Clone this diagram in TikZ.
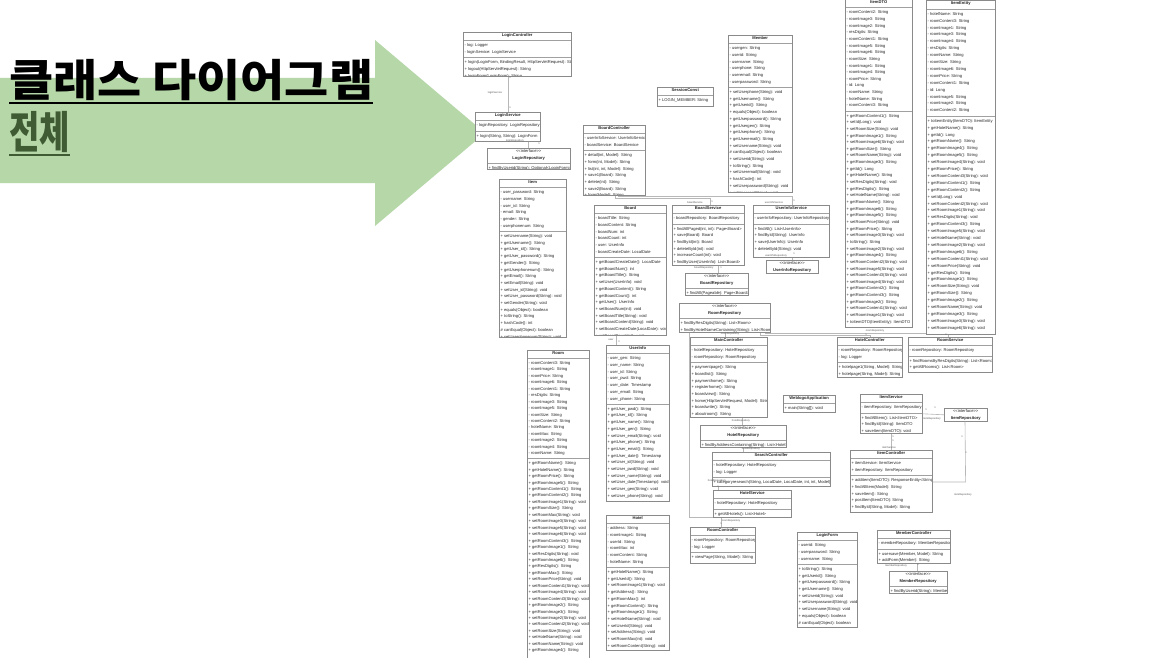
\documentclass[tikz,border=0pt]{standalone}
\usepackage{fontspec}
\usepackage{graphicx}
\setmainfont{Liberation Sans}
\newfontfamily\krfont{Noto Sans CJK KR}
\usetikzlibrary{calc}
\definecolor{arrowgreen}{HTML}{B6D7A8}
\definecolor{boxline}{HTML}{8A8A8A}
\definecolor{sepline}{HTML}{A0A0A0}
\definecolor{connline}{HTML}{B8B8B8}
\definecolor{umltext}{HTML}{262626}
\definecolor{lbltext}{HTML}{555555}
\definecolor{titlegreen}{HTML}{3E5B33}
\newdimen\uh \newdimen\ud
\newcommand\setls[1]{\uh=\dimexpr #1pt*67/100\relax \ud=\dimexpr #1pt*33/100\relax}
\newcommand\uT[1]{\hbox to \hsize{\hss\vrule height\uh depth\ud width0pt\bfseries #1\hss}}
\newcommand\uI[1]{\hbox to \hsize{\hss\vrule height\uh depth\ud width0pt <{}<interface>{}>\hss}\uT{#1}}
\newcommand\uS{\kern1.5pt{\color{sepline}\hrule height .5pt}\kern1.5pt}
\newcommand\uL[1]{\hbox{\kern1.4pt\vrule height\uh depth\ud width0pt #1}}
\tikzset{
  umlframe/.style={draw=boxline, line width=0.6pt, inner sep=0pt},
  conn/.style={draw=connline, line width=0.6pt},
  lbl/.style={inner sep=0pt, text=lbltext, font=\fontsize{2.6}{3}\selectfont},
}
\newcommand\umlbox[7]{%
  \begin{scope}
    \clip (#2,#3) rectangle ++(#4,#5);
    \fill[white] (#2,#3) rectangle ++(#4,#5);
    \node[inner sep=0pt, anchor=north west, text=umltext, font=\fontsize{4.1}{5}\selectfont] at (#2,#3)
      {\setls{#6}\vbox{\hsize=#4pt\offinterlineskip #7}};
  \end{scope}
  \node[umlframe, minimum width=#4pt, minimum height=#5pt, anchor=north west] (#1) at (#2,#3) {};
}
\begin{document}
\begin{tikzpicture}[x=1pt,y=-1pt]
\useasboundingbox[fill=white] (0,0) rectangle (1172,658);
% ---- title and arrow
\fill[arrowgreen] (0,78) -- (375,78) -- (375,40) -- (485,133) -- (375,226) -- (375,183) -- (0,183) -- cycle;
\node[anchor=base west, inner sep=0pt, font=\krfont\bfseries\fontsize{44}{44}\selectfont] (title1) at (9,97) {\scalebox{1.09}[1]{클래스 다이어그램}};
\draw[line width=2.8pt] ([yshift=-6pt]title1.base west) -- ([yshift=-6pt]title1.base east);
\node[anchor=base west, inner sep=0pt, text=titlegreen, font=\krfont\bfseries\fontsize{44}{44}\selectfont] (title2) at (9,149) {\scalebox{0.75}[1]{전체}};
\draw[line width=2.8pt, titlegreen] ([yshift=-6pt]title2.base west) -- ([yshift=-6pt]title2.base east);

% ---- connectors drawn below the boxes
\coordinate (bcA) at (615,195);
\coordinate (bcB) at (618,195);
\draw[conn] (bcA) -- (615,198) -| (710,205);
\draw[conn] (bcB) -- (618,196) -| (792,205);
\draw[conn] (721,527) -- (721,517) -| (689,331);
\draw[conn] (870,337) -- (870,335) -| (760,331);
\draw[conn] (948,337) -- (948,333) -| (765,331);

% ---- boxes
\umlbox{loginController}{463}{32}{108}{44}{6.7}{\uT{LoginController}\uS
 \uL{- log: Logger}\uL{- loginService: LoginService}\uS
 \uL{+ login(LoginForm, BindingResult, HttpServletRequest): String}\uL{+ logout(HttpServletRequest): String}\uL{+ loginForm(LoginForm): String}}
\umlbox{loginService}{475}{112}{65}{29}{6.7}{\uT{LoginService}\uS
 \uL{- loginRepository: LoginRepository}\uS
 \uL{+ login(String, String): LoginForm}}
\umlbox{loginRepository}{487}{148}{83}{21}{6.7}{\uI{LoginRepository}\uS
 \uL{+ findByUserid(String): Optional<LoginForm>}}
\umlbox{item}{499}{179}{67}{158}{6.7}{\uT{Item}\uS
 \uL{- user\_password: String}\uL{- username: String}\uL{- user\_id: String}\uL{- email: String}\uL{- gender: String}\uL{- userphonenum: String}\uS
 \uL{+ setUsername(String): void}\uL{+ getUsername(): String}\uL{+ getUser\_id(): String}\uL{+ getUser\_password(): String}\uL{+ getGender(): String}\uL{+ getUserphonenum(): String}\uL{+ getEmail(): String}\uL{+ setEmail(String): void}\uL{+ setUser\_id(String): void}\uL{+ setUser\_password(String): void}\uL{+ setGender(String): void}\uL{+ equals(Object): boolean}\uL{+ toString(): String}\uL{+ hashCode(): int}\uL{\# canEqual(Object): boolean}\uL{+ setUserphonenum(String): void}}
\umlbox{sessionConst}{657}{87}{56}{19}{6.7}{\uT{SessionConst}\uS
 \uL{+ LOGIN\_MEMBER: String}}
\umlbox{member}{728}{35}{64}{157}{6.7}{\uT{Member}\uS
 \uL{- usergen: String}\uL{- userid: String}\uL{- username: String}\uL{- userphone: String}\uL{- useremail: String}\uL{- userpassword: String}\uS
 \uL{+ setUserphone(String): void}\uL{+ getUsername(): String}\uL{+ getUserid(): String}\uL{+ equals(Object): boolean}\uL{+ getUserpassword(): String}\uL{+ getUsergen(): String}\uL{+ getUserphone(): String}\uL{+ getUseremail(): String}\uL{+ setUsername(String): void}\uL{\# canEqual(Object): boolean}\uL{+ setUserid(String): void}\uL{+ toString(): String}\uL{+ setUseremail(String): void}\uL{+ hashCode(): int}\uL{+ setUserpassword(String): void}\uL{+ setUsergen(String): void}}
\umlbox{boardController}{583}{125}{62}{70}{6.7}{\uT{BoardController}\uS
 \uL{- userInfoService: UserInfoService}\uL{- boardService: BoardService}\uS
 \uL{+ detail(int, Model): String}\uL{+ form(int, Model): String}\uL{+ list(int, int, Model): String}\uL{+ save1(Board): String}\uL{+ delete(int): String}\uL{+ save2(Board): String}\uL{+ form(Model): String}}
\umlbox{board}{594}{205}{72}{130}{6.7}{\uT{Board}\uS
 \uL{- boardTitle: String}\uL{- boardContent: String}\uL{- boardNum: int}\uL{- boardCount: int}\uL{- user: UserInfo}\uL{- boardCreateDate: LocalDate}\uS
 \uL{+ getBoardCreateDate(): LocalDate}\uL{+ getBoardNum(): int}\uL{+ getBoardTitle(): String}\uL{+ setUser(UserInfo): void}\uL{+ getBoardContent(): String}\uL{+ getBoardCount(): int}\uL{+ getUser(): UserInfo}\uL{+ setBoardNum(int): void}\uL{+ setBoardTitle(String): void}\uL{+ setBoardContent(String): void}\uL{+ setBoardCreateDate(LocalDate): void}\uL{+ setBoardCount(int): void}}
\umlbox{boardService}{672}{205}{72}{60}{6.7}{\uT{BoardService}\uS
 \uL{- boardRepository: BoardRepository}\uS
 \uL{+ findAllPaged(int, int): Page<Board>}\uL{+ save(Board): Board}\uL{+ findById(int): Board}\uL{+ deleteById(int): void}\uL{+ increaseCount(int): void}\uL{+ findByUser(UserInfo): List<Board>}}
\umlbox{userInfoService}{753}{205}{76}{52}{6.7}{\uT{UserInfoService}\uS
 \uL{- userInfoRepository: UserInfoRepository}\uS
 \uL{+ findAll(): List<UserInfo>}\uL{+ findById(String): UserInfo}\uL{+ save(UserInfo): UserInfo}\uL{+ deleteById(String): void}}
\umlbox{boardRepository}{685}{273}{63}{22}{6.7}{\uI{BoardRepository}\uS
 \uL{+ findAll(Pageable): Page<Board>}}
\umlbox{userInfoRepository}{766}{260}{52}{13}{6.7}{\uI{UserInfoRepository}}
\umlbox{roomRepository}{679}{303}{91}{29}{6.7}{\uI{RoomRepository}\uS
 \uL{+ findByResDigits(String): List<Room>}\uL{+ findByHotelNameContaining(String): List<Room>}}
\umlbox{itemDTO}{845}{-1}{67}{328}{6.65}{\uT{ItemDTO}\uS
 \uL{- roomContent2: String}\uL{- roomImage3: String}\uL{- roomImage2: String}\uL{- resDigits: String}\uL{- roomContent1: String}\uL{- roomImage5: String}\uL{- roomImage6: String}\uL{- roomSize: String}\uL{- roomImage1: String}\uL{- roomImage4: String}\uL{- roomPrice: String}\uL{- id: Long}\uL{- roomName: String}\uL{- hotelName: String}\uL{- roomContent3: String}\uS
 \uL{+ getRoomContent1(): String}\uL{+ setId(Long): void}\uL{+ setRoomSize(String): void}\uL{+ getRoomImage1(): String}\uL{+ setRoomImage6(String): void}\uL{+ getRoomSize(): String}\uL{+ setRoomName(String): void}\uL{+ getRoomImage3(): String}\uL{+ getId(): Long}\uL{+ getHotelName(): String}\uL{+ setResDigits(String): void}\uL{+ getResDigits(): String}\uL{+ setHotelName(String): void}\uL{+ getRoomName(): String}\uL{+ getRoomImage6(): String}\uL{+ getRoomImage5(): String}\uL{+ setRoomPrice(String): void}\uL{+ getRoomPrice(): String}\uL{+ setRoomImage3(String): void}\uL{+ toString(): String}\uL{+ setRoomImage2(String): void}\uL{+ getRoomImage4(): String}\uL{+ setRoomContent2(String): void}\uL{+ setRoomImage5(String): void}\uL{+ setRoomContent3(String): void}\uL{+ setRoomImage4(String): void}\uL{+ getRoomContent2(): String}\uL{+ getRoomContent3(): String}\uL{+ getRoomImage2(): String}\uL{+ setRoomContent1(String): void}\uL{+ setRoomImage1(String): void}\uL{+ toItemDTO(ItemEntity): ItemDTO}}
\umlbox{itemEntity}{926}{0}{69}{334}{6.9}{\uT{ItemEntity}\uS
 \uL{- hotelName: String}\uL{- roomContent3: String}\uL{- roomImage1: String}\uL{- roomImage3: String}\uL{- roomImage4: String}\uL{- resDigits: String}\uL{- roomName: String}\uL{- roomSize: String}\uL{- roomImage6: String}\uL{- roomPrice: String}\uL{- roomContent1: String}\uL{- id: Long}\uL{- roomImage5: String}\uL{- roomImage2: String}\uL{- roomContent2: String}\uS
 \uL{+ toItemEntity(ItemDTO): ItemEntity}\uL{+ getHotelName(): String}\uL{+ getId(): Long}\uL{+ getRoomName(): String}\uL{+ getRoomImage4(): String}\uL{+ getRoomImage5(): String}\uL{+ setRoomImage4(String): void}\uL{+ getRoomPrice(): String}\uL{+ setRoomContent3(String): void}\uL{+ getRoomContent1(): String}\uL{+ getRoomContent2(): String}\uL{+ setId(Long): void}\uL{+ setRoomContent2(String): void}\uL{+ setRoomImage1(String): void}\uL{+ setResDigits(String): void}\uL{+ getRoomContent3(): String}\uL{+ setRoomImage5(String): void}\uL{+ setHotelName(String): void}\uL{+ setRoomImage2(String): void}\uL{+ getRoomImage6(): String}\uL{+ setRoomContent1(String): void}\uL{+ setRoomPrice(String): void}\uL{+ getResDigits(): String}\uL{+ getRoomImage1(): String}\uL{+ setRoomSize(String): void}\uL{+ getRoomSize(): String}\uL{+ getRoomImage2(): String}\uL{+ setRoomName(String): void}\uL{+ getRoomImage3(): String}\uL{+ setRoomImage3(String): void}\uL{+ setRoomImage6(String): void}}
\umlbox{room}{527}{350}{62}{320}{6.45}{\uT{Room}\uS
 \uL{- roomContent3: String}\uL{- roomImage1: String}\uL{- roomPrice: String}\uL{- roomImage6: String}\uL{- roomContent1: String}\uL{- resDigits: String}\uL{- roomImage3: String}\uL{- roomImage5: String}\uL{- roomSize: String}\uL{- roomContent2: String}\uL{- hotelName: String}\uL{- roomMax: String}\uL{- roomImage2: String}\uL{- roomImage4: String}\uL{- roomName: String}\uS
 \uL{+ getRoomName(): String}\uL{+ getHotelName(): String}\uL{+ getRoomPrice(): String}\uL{+ getRoomImage5(): String}\uL{+ getRoomContent1(): String}\uL{+ getRoomContent2(): String}\uL{+ setRoomImage1(String): void}\uL{+ getRoomSize(): String}\uL{+ setRoomMax(String): void}\uL{+ setRoomImage3(String): void}\uL{+ setRoomImage5(String): void}\uL{+ setRoomImage6(String): void}\uL{+ getRoomContent3(): String}\uL{+ getRoomImage1(): String}\uL{+ setResDigits(String): void}\uL{+ getRoomImage6(): String}\uL{+ getResDigits(): String}\uL{+ getRoomMax(): String}\uL{+ setRoomPrice(String): void}\uL{+ setRoomContent1(String): void}\uL{+ setRoomImage4(String): void}\uL{+ setRoomContent3(String): void}\uL{+ getRoomImage2(): String}\uL{+ getRoomImage3(): String}\uL{+ setRoomImage2(String): void}\uL{+ setRoomContent2(String): void}\uL{+ setRoomSize(String): void}\uL{+ setHotelName(String): void}\uL{+ setRoomName(String): void}\uL{+ getRoomImage4(): String}}
\umlbox{userInfo}{606}{345}{63}{156}{6.7}{\uT{UserInfo}\uS
 \uL{- user\_gen: String}\uL{- user\_name: String}\uL{- user\_id: String}\uL{- user\_pwd: String}\uL{- user\_date: Timestamp}\uL{- user\_email: String}\uL{- user\_phone: String}\uS
 \uL{+ getUser\_pwd(): String}\uL{+ getUser\_id(): String}\uL{+ getUser\_name(): String}\uL{+ getUser\_gen(): String}\uL{+ setUser\_email(String): void}\uL{+ getUser\_phone(): String}\uL{+ getUser\_email(): String}\uL{+ getUser\_date(): Timestamp}\uL{+ setUser\_id(String): void}\uL{+ setUser\_pwd(String): void}\uL{+ setUser\_name(String): void}\uL{+ setUser\_date(Timestamp): void}\uL{+ setUser\_gen(String): void}\uL{+ setUser\_phone(String): void}}
\umlbox{hotel}{606}{515}{63}{135}{6.7}{\uT{Hotel}\uS
 \uL{- address: String}\uL{- roomImage1: String}\uL{- userId: String}\uL{- roomMax: int}\uL{- roomContent: String}\uL{- hotelName: String}\uS
 \uL{+ getHotelName(): String}\uL{+ getUserId(): String}\uL{+ setRoomImage1(String): void}\uL{+ getAddress(): String}\uL{+ getRoomMax(): int}\uL{+ getRoomContent(): String}\uL{+ getRoomImage1(): String}\uL{+ setHotelName(String): void}\uL{+ setUserId(String): void}\uL{+ setAddress(String): void}\uL{+ setRoomMax(int): void}\uL{+ setRoomContent(String): void}}
\umlbox{mainController}{690}{337}{77}{80}{6.7}{\uT{MainController}\uS
 \uL{- hotelRepository: HotelRepository}\uL{- roomRepository: RoomRepository}\uS
 \uL{+ paymentpage(): String}\uL{+ boardlist(): String}\uL{+ paymenthome(): String}\uL{+ registerhome(): String}\uL{+ boardview(): String}\uL{+ home(HttpServletRequest, Model): String}\uL{+ boardwrite(): String}\uL{+ aboutroom(): String}}
\umlbox{weblogoApplication}{783}{395}{52}{17}{6.7}{\uT{WeblogoApplication}\uS
 \uL{+ main(String[]): void}}
\umlbox{hotelRepository}{700}{425}{86}{22}{6.7}{\uI{HotelRepository}\uS
 \uL{+ findByAddressContaining(String): List<Hotel>}}
\umlbox{searchController}{712}{452}{118}{34}{6.7}{\uT{SearchController}\uS
 \uL{- hotelRepository: HotelRepository}\uL{- log: Logger}\uS
 \uL{+ categoryresearch(String, LocalDate, LocalDate, int, int, Model): String}}
\umlbox{hotelService}{713}{490}{78}{27}{6.7}{\uT{HotelService}\uS
 \uL{- hotelRepository: HotelRepository}\uS
 \uL{+ getAllHotels(): List<Hotel>}}
\umlbox{roomController}{690}{527}{65}{36}{6.7}{\uT{RoomController}\uS
 \uL{- roomRepository: RoomRepository}\uL{- log: Logger}\uS
 \uL{+ viewPage(String, Model): String}}
\umlbox{loginForm}{797}{532}{60}{95}{6.7}{\uT{LoginForm}\uS
 \uL{- userid: String}\uL{- userpassword: String}\uL{- username: String}\uS
 \uL{+ toString(): String}\uL{+ getUserid(): String}\uL{+ getUserpassword(): String}\uL{+ getUsername(): String}\uL{+ setUserid(String): void}\uL{+ setUserpassword(String): void}\uL{+ setUsername(String): void}\uL{+ equals(Object): boolean}\uL{\# canEqual(Object): boolean}\uL{+ hashCode(): int}}
\umlbox{memberController}{877}{530}{73}{33}{6.7}{\uT{MemberController}\uS
 \uL{- memberRepository: MemberRepository}\uS
 \uL{+ usersave(Member, Model): String}\uL{+ addForm(Member): String}}
\umlbox{memberRepository}{889}{571}{58}{22}{6.7}{\uI{MemberRepository}\uS
 \uL{+ findByUserid(String): Member}}
\umlbox{hotelController}{837}{337}{65}{40}{6.7}{\uT{HotelController}\uS
 \uL{- roomRepository: RoomRepository}\uL{- log: Logger}\uS
 \uL{+ hotelpage1(String, Model): String}\uL{+ hotelpage(String, Model): String}}
\umlbox{roomService}{908}{337}{84}{35}{6.7}{\uT{RoomService}\uS
 \uL{- roomRepository: RoomRepository}\uS
 \uL{+ findRoomsByResDigits(String): List<Room>}\uL{+ getAllRooms(): List<Room>}}
\umlbox{itemService}{860}{394}{62}{39}{6.7}{\uT{ItemService}\uS
 \uL{- itemRepository: ItemRepository}\uS
 \uL{+ findAllItem(): List<ItemDTO>}\uL{+ findById(String): ItemDTO}\uL{+ saveItem(ItemDTO): void}}
\umlbox{itemRepository}{944}{408}{43}{13}{6.7}{\uI{ItemRepository}}
\umlbox{itemController}{850}{450}{82}{62}{6.7}{\uT{ItemController}\uS
 \uL{+ itemService: ItemService}\uL{+ itemRepository: ItemRepository}\uS
 \uL{+ additem(ItemDTO): ResponseEntity<String>}\uL{+ findAllItem(Model): String}\uL{+ saveItem(): String}\uL{+ postItem(ItemDTO): String}\uL{+ findById(String, Model): String}\uL{+ deleteItem(String): String}}

% ---- connectors between boxes
\draw[conn] ([xshift=45pt]loginController.south west) -- ([xshift=33pt]loginService.north west);
\draw[conn] ([xshift=53pt]loginService.south west) -- ([xshift=41pt]loginRepository.north west);
\draw[conn] ([xshift=46pt]boardService.south west) -- ([xshift=33pt]boardRepository.north west);
\draw[conn] ([xshift=39pt]userInfoService.south west) -- ([xshift=26pt]userInfoRepository.north west);
\draw[conn] ([xshift=22pt]board.south west) -- ([xshift=10pt]userInfo.north west);
\draw[conn] ([xshift=35pt]mainController.north west) -- ([xshift=46pt]roomRepository.south west);
\draw[conn] ([xshift=52pt]mainController.south west) -- ([xshift=42pt]hotelRepository.north west);
\draw[conn] ([xshift=43pt]hotelRepository.south west) -- ([xshift=31pt]searchController.north west);
\draw[conn] ([xshift=5pt]hotelService.north west) -- ([xshift=6pt]searchController.south west);
\draw[conn] (itemService.east) -- (itemRepository.west);
\draw[conn] ([xshift=31pt]itemService.south west) -- ([xshift=41pt]itemController.north west);
\draw[conn] ([yshift=-32pt]itemController.north east) -- ++(33,0) -- ([xshift=21pt]itemRepository.south west);
\draw[conn] ([xshift=40pt]memberController.south west) -- ([xshift=28pt]memberRepository.north west);

% ---- connector labels
\node[lbl] (t1) at (495,93) {loginService};
\node[lbl] (t2) at (510,78) {1};
\node[lbl] (t3) at (510,108) {1};
\node[lbl] (t4) at (515,141) {loginRepository};
\node[lbl] (t5) at (539,144) {1};
\node[lbl] (t6) at (695,203) {boardService};
\node[lbl] (t7) at (712,202) {1};
\node[lbl] (t8) at (774,203) {userInfoService};
\node[lbl] (t9) at (794,201) {1};
\node[lbl] (t10) at (704,268) {boardRepository};
\node[lbl] (t11) at (721,268) {1};
\node[lbl] (t12) at (776,256) {userInfoRepository};
\node[lbl] (t13) at (794,254) {1};
\node[lbl] (t14) at (611,340) {user};
\node[lbl] (t15) at (619,342) {1};
\node[lbl] (t16) at (730,334) {roomRepository};
\node[lbl] (t17) at (875,331) {roomRepository};
\node[lbl] (t18) at (866,335) {1};
\node[lbl] (t19) at (946,335) {1};
\node[lbl] (t20) at (741,421) {hotelRepository};
\node[lbl] (t21) at (751,449) {hotelRepository};
\node[lbl] (t22) at (717,481) {hotelRepository};
\node[lbl] (t23) at (718,487) {1};
\node[lbl] (t24) at (731,521) {roomRepository};
\node[lbl] (t25) at (721,524) {1};
\node[lbl] (t26) at (932,419) {itemRepository};
\node[lbl] (t27) at (926,410) {1};
\node[lbl] (t28) at (935,408) {1};
\node[lbl] (t29) at (889,448) {itemService};
\node[lbl] (t30) at (893,437) {1};
\node[lbl] (t31) at (893,441) {1};
\node[lbl] (t32) at (962,437) {1};
\node[lbl] (t33) at (966,453) {1};
\node[lbl] (t34) at (963,495) {itemRepository};
\node[lbl] (t35) at (896,566) {memberRepository};
\node[lbl] (t36) at (918,565) {1};
\end{tikzpicture}
\end{document}
